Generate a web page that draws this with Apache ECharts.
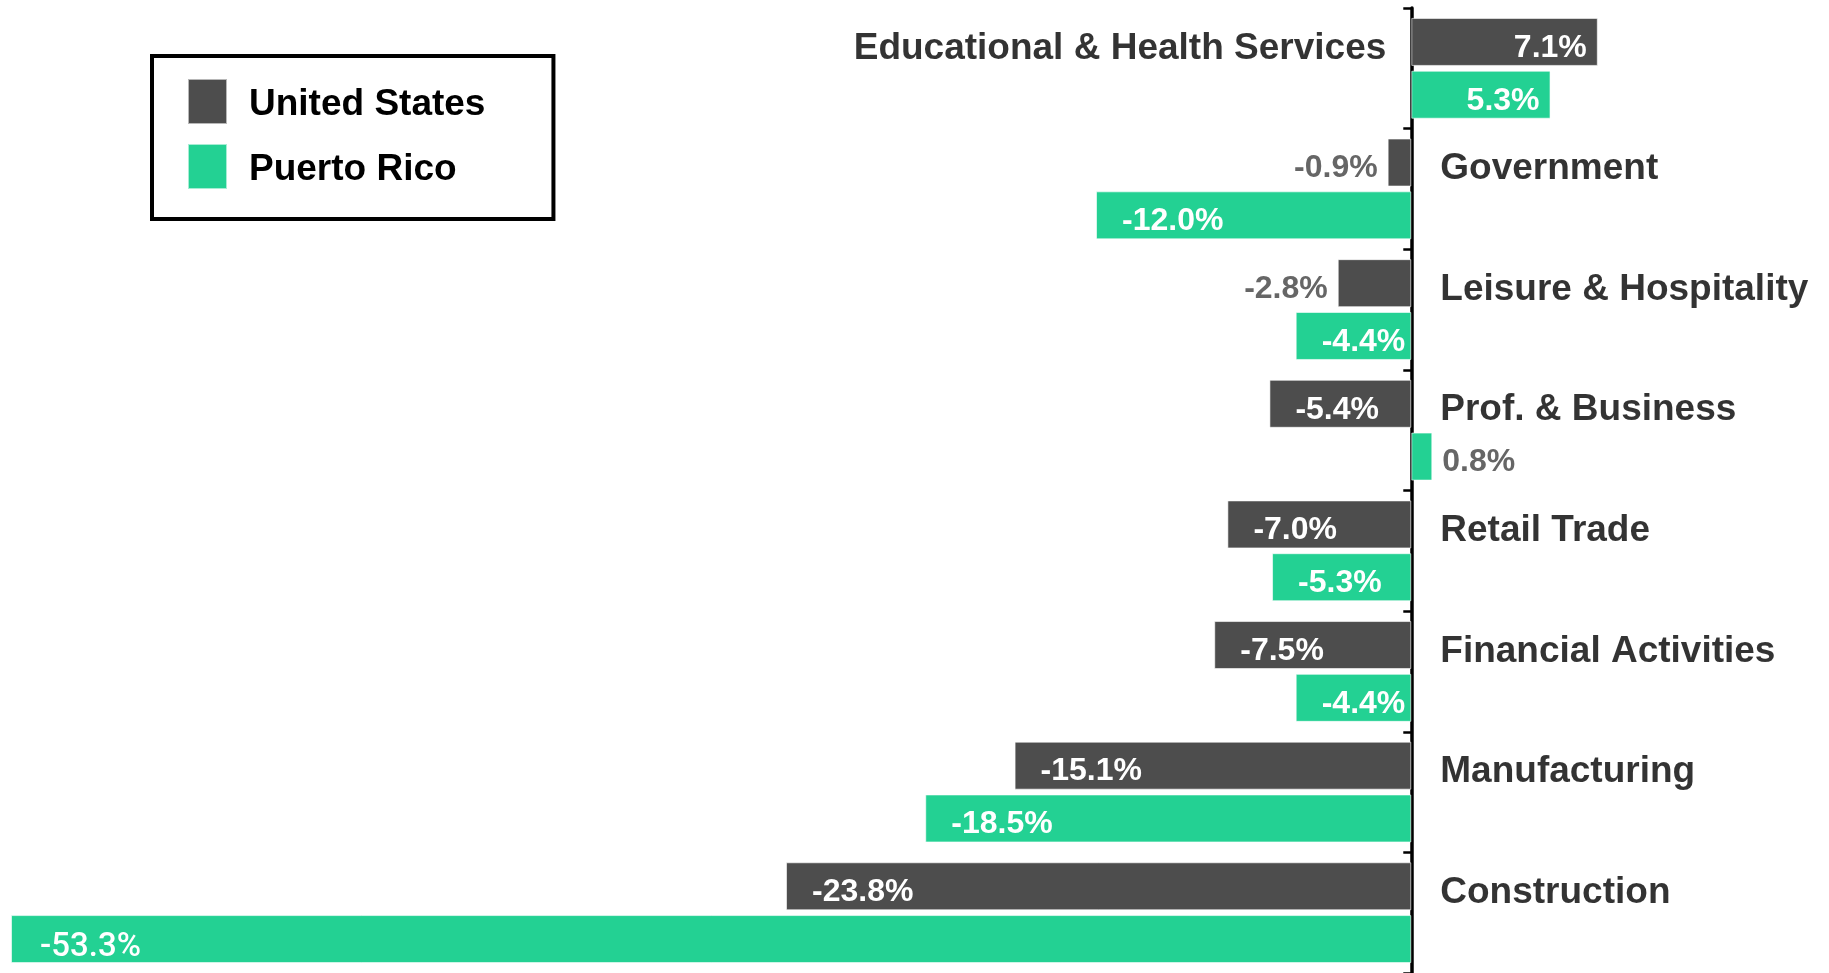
<!DOCTYPE html>
<html>
<head>
<meta charset="utf-8">
<title>Employment change by sector</title>
<script src="https://cdn.jsdelivr.net/npm/echarts@6/dist/echarts.min.js"></script>
<style>
  html, body { margin: 0; padding: 0; background: #fff; }
  #chart { width: 1829px; height: 973px; }
</style>
</head>
<body>
<div id="chart"></div>
<script>
// sectors, top to bottom
const sectors = [
  "Educational & Health Services",
  "Government",
  "Leisure & Hospitality",
  "Prof. & Business",
  "Retail Trade",
  "Financial Activities",
  "Manufacturing",
  "Construction"
];
// percent change
const usValues = [7.1, -0.9, -2.8, -5.4, -7.0, -7.5, -15.1, -23.8];
const prValues = [5.3, -12.0, -4.4, 0.8, -5.3, -4.4, -18.5, -53.3];

const US_COLOR = "#4d4d4d";
const PR_COLOR = "#23d193";
const FONT = "'Liberation Sans', Arial, sans-serif";

// small bars get a grey label outside, others white inside
function barLabel(v) {
  const small = Math.abs(v) < 3;
  let position, distance;
  if (small) {
    position = v < 0 ? "left" : "right";
    distance = 10;
  } else {
    position = v < 0 ? "insideLeft" : "insideRight";
    distance = v < 0 ? 26 : 11;
  }
  const lab = {
    show: true,
    position: position,
    distance: distance,
    offset: [0, 6],
    color: small ? "#666666" : "#ffffff",
    fontSize: 32,
    fontWeight: "bold",
    fontFamily: FONT,
    formatter: (p) => p.value.toFixed(1) + "%"
  };
  // the big construction label is drawn in a lighter face in the original
  if (v < -50) {
    lab.fontFamily = "Roboto";
    lab.fontWeight = 500;
    lab.fontSize = 33;
    lab.distance = 29;
    lab.offset = [0, 9];
  }
  return lab;
}

function barData(values) {
  return values.map((v) => ({ value: v, label: barLabel(v) }));
}

// sector names sit beside the US bar, on the side away from it
const nameData = sectors.map((s, i) => ({
  value: [0, i],
  label: {
    position: usValues[i] >= 0 ? "left" : "right",
    distance: usValues[i] >= 0 ? 25 : 29
  }
}));

const chart = echarts.init(document.getElementById("chart"));
chart.setOption({
  animation: false,
  backgroundColor: "#ffffff",
  grid: { left: 11, right: 155, top: 8, bottom: -5 },
  legend: {
    data: ["United States", "Puerto Rico"],
    orient: "vertical",
    left: 152,
    top: 56,
    padding: [22, 68, 29, 35],
    borderColor: "#000",
    borderWidth: 4,
    itemWidth: 39,
    itemHeight: 45,
    itemGap: 18,
    icon: "rect",
    formatter: (name) => "{t|" + name + "}",
    textStyle: {
      rich: {
        t: {
          fontSize: 37,
          fontWeight: "bold",
          fontFamily: FONT,
          color: "#000",
          padding: [7, 0, 0, 17]
        }
      }
    }
  },
  xAxis: {
    type: "value",
    min: -53.3,
    max: 10,
    show: false
  },
  yAxis: {
    type: "category",
    data: sectors,
    inverse: true,
    axisLine: { onZero: true, lineStyle: { color: "#000", width: 3.5 } },
    axisTick: { show: true, length: 8, lineStyle: { color: "#000", width: 2.5 } },
    axisLabel: { show: false },
    splitLine: { show: false }
  },
  series: [
    {
      name: "United States",
      type: "bar",
      data: barData(usValues),
      barWidth: 48,
      barGap: "10%",
      itemStyle: { color: US_COLOR, borderColor: "rgba(255,255,255,0.6)", borderWidth: 1 },
      z: 1
    },
    {
      name: "Puerto Rico",
      type: "bar",
      data: barData(prValues),
      barWidth: 48,
      barGap: "10%",
      itemStyle: { color: PR_COLOR, borderColor: "rgba(255,255,255,0.6)", borderWidth: 1 },
      z: 1
    },
    {
      name: "names",
      type: "scatter",
      data: nameData,
      symbolSize: 0,
      silent: true,
      z: 5,
      label: {
        show: true,
        offset: [0, -20],
        color: "#000",
        fontSize: 37,
        fontWeight: "bold",
        fontFamily: FONT,
        formatter: (p) => sectors[p.dataIndex]
      }
    }
  ]
});
</script>
</body>
</html>
